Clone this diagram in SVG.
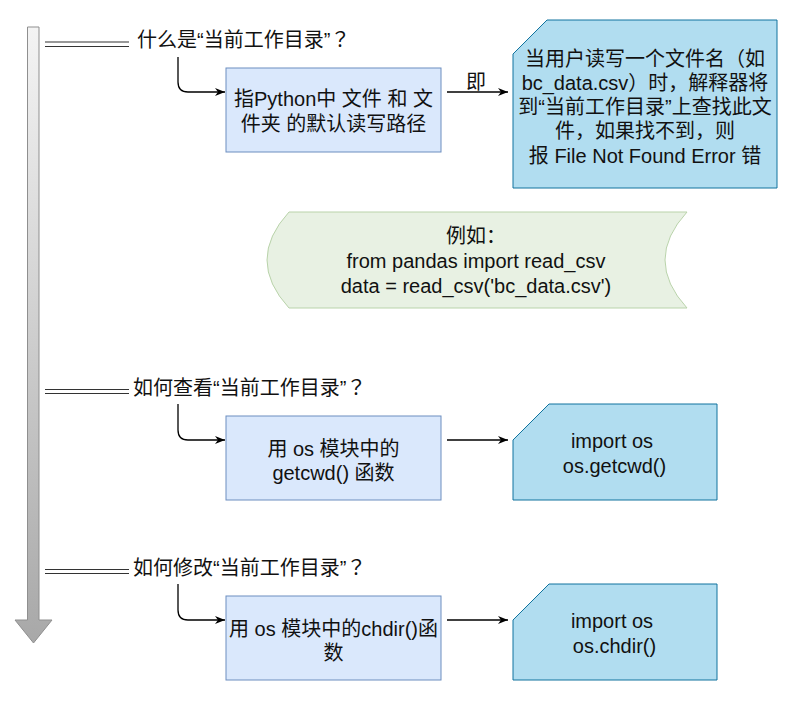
<svg xmlns="http://www.w3.org/2000/svg" width="807" height="714" viewBox="0 0 807 714">
  <defs>
    <linearGradient id="gArrow" gradientUnits="userSpaceOnUse" x1="0" y1="27" x2="0" y2="643">
      <stop offset="0" stop-color="#f4f4f4"/>
      <stop offset="1" stop-color="#a8a8a8"/>
    </linearGradient>
    <marker id="arr" viewBox="0 0 10 8" refX="10" refY="4" markerWidth="10" markerHeight="8" markerUnits="userSpaceOnUse" orient="auto">
      <path d="M0,0 L10,4 L0,8 L3,4 Z" fill="#000"/>
    </marker>
    <style>
      text { font-family: "Liberation Sans", "Noto Sans CJK SC", sans-serif; font-size: 20px; fill: #111; }
      .c { text-anchor: middle; }
      .qm { font-family: "Noto Sans CJK TC", "Noto Sans CJK SC", sans-serif; }
      .box { fill: #dae8fc; stroke: #6c8ebf; stroke-width: 1; }
      .card { fill: #b1ddf0; stroke: #10739e; stroke-width: 1; }
      .store { fill: #e8f1e3; stroke: #b9d3aa; stroke-width: 1; }
      .dbl { stroke: #333; stroke-width: 1.2; fill: none; }
      .conn { stroke: #000; stroke-width: 1.3; fill: none; marker-end: url(#arr); }
    </style>
  </defs>

  <g id="timeline">
    <path d="M27.5,27 L39,27 L39,620 L52,620 L33.5,643 L15,620 L27.5,620 Z" fill="url(#gArrow)" stroke="#8f8f8f" stroke-width="1"/>
  </g>

  <g id="q1">
    <path class="dbl" d="M45,42 H129 M45,46.5 H129"/>
    <text x="137" y="47">什么是“当前工作目录”<tspan class="qm">？</tspan></text>
  </g>
  <g id="a1">
    <rect class="box" x="226" y="68" width="215" height="84"/>
    <text class="c" x="333.5" y="106">指Python中 文件 和 文</text>
    <text class="c" x="333.5" y="130.5">件夹 的默认读写路径</text>
  </g>
  <g id="d1">
    <path class="card" d="M547,20 L777,20 L777,188 L513,188 L513,54 Z"/>
    <text class="c" x="645" y="65.5">当用户读写一个文件名（如</text>
    <text class="c" x="645" y="89.8">bc_data.csv）时，解释器将</text>
    <text class="c" x="645" y="114">到“当前工作目录”上查找此文</text>
    <text class="c" x="645" y="138.3">件，如果找不到，则</text>
    <text class="c" x="645" y="162.5">报 File Not Found Error 错</text>
  </g>
  <g id="example">
    <path class="store" d="M289,212 L687,212 Q643,260 687,308 L289,308 Q245,260 289,212 Z"/>
    <text class="c" x="476" y="243">例如：</text>
    <text class="c" x="476" y="268">from pandas import read_csv</text>
    <text class="c" x="476" y="293">data = read_csv('bc_data.csv')</text>
  </g>

  <g id="q2">
    <path class="dbl" d="M45,389.5 H129 M45,393.5 H129"/>
    <text x="133" y="395">如何查看“当前工作目录”<tspan class="qm">？</tspan></text>
  </g>
  <g id="a2">
    <rect class="box" x="226" y="416" width="215" height="84"/>
    <text class="c" x="333.5" y="455.5">用 os 模块中的</text>
    <text class="c" x="333.5" y="480">getcwd() 函数</text>
  </g>
  <g id="d2">
    <path class="card" d="M549,404 L717,404 L717,500 L513,500 L513,440 Z"/>
    <text class="c" x="612" y="448">import os</text>
    <text class="c" x="614.5" y="472.5">os.getcwd()</text>
  </g>

  <g id="q3">
    <path class="dbl" d="M45,569.5 H129 M45,573.5 H129"/>
    <text x="133" y="575">如何修改“当前工作目录”<tspan class="qm">？</tspan></text>
  </g>
  <g id="a3">
    <rect class="box" x="226" y="596" width="215" height="84"/>
    <text class="c" x="333.5" y="635.5">用 os 模块中的chdir()函</text>
    <text class="c" x="333.5" y="660">数</text>
  </g>
  <g id="d3">
    <path class="card" d="M549,584 L717,584 L717,680 L513,680 L513,620 Z"/>
    <text class="c" x="612" y="628">import os</text>
    <text class="c" x="614.5" y="652.5">os.chdir()</text>
  </g>

  <g id="connectors">
    <path class="conn" d="M178,57 L178,82 Q178,92 188,92 L225,92"/>
    <path class="conn" d="M447,92 L508,92"/>
    <text class="c" x="476" y="89">即</text>
    <path class="conn" d="M178,404 L178,430 Q178,440 188,440 L225,440"/>
    <path class="conn" d="M447,440 L508,440"/>
    <path class="conn" d="M178,584 L178,610 Q178,620 188,620 L225,620"/>
    <path class="conn" d="M447,620 L508,620"/>
  </g>
</svg>
